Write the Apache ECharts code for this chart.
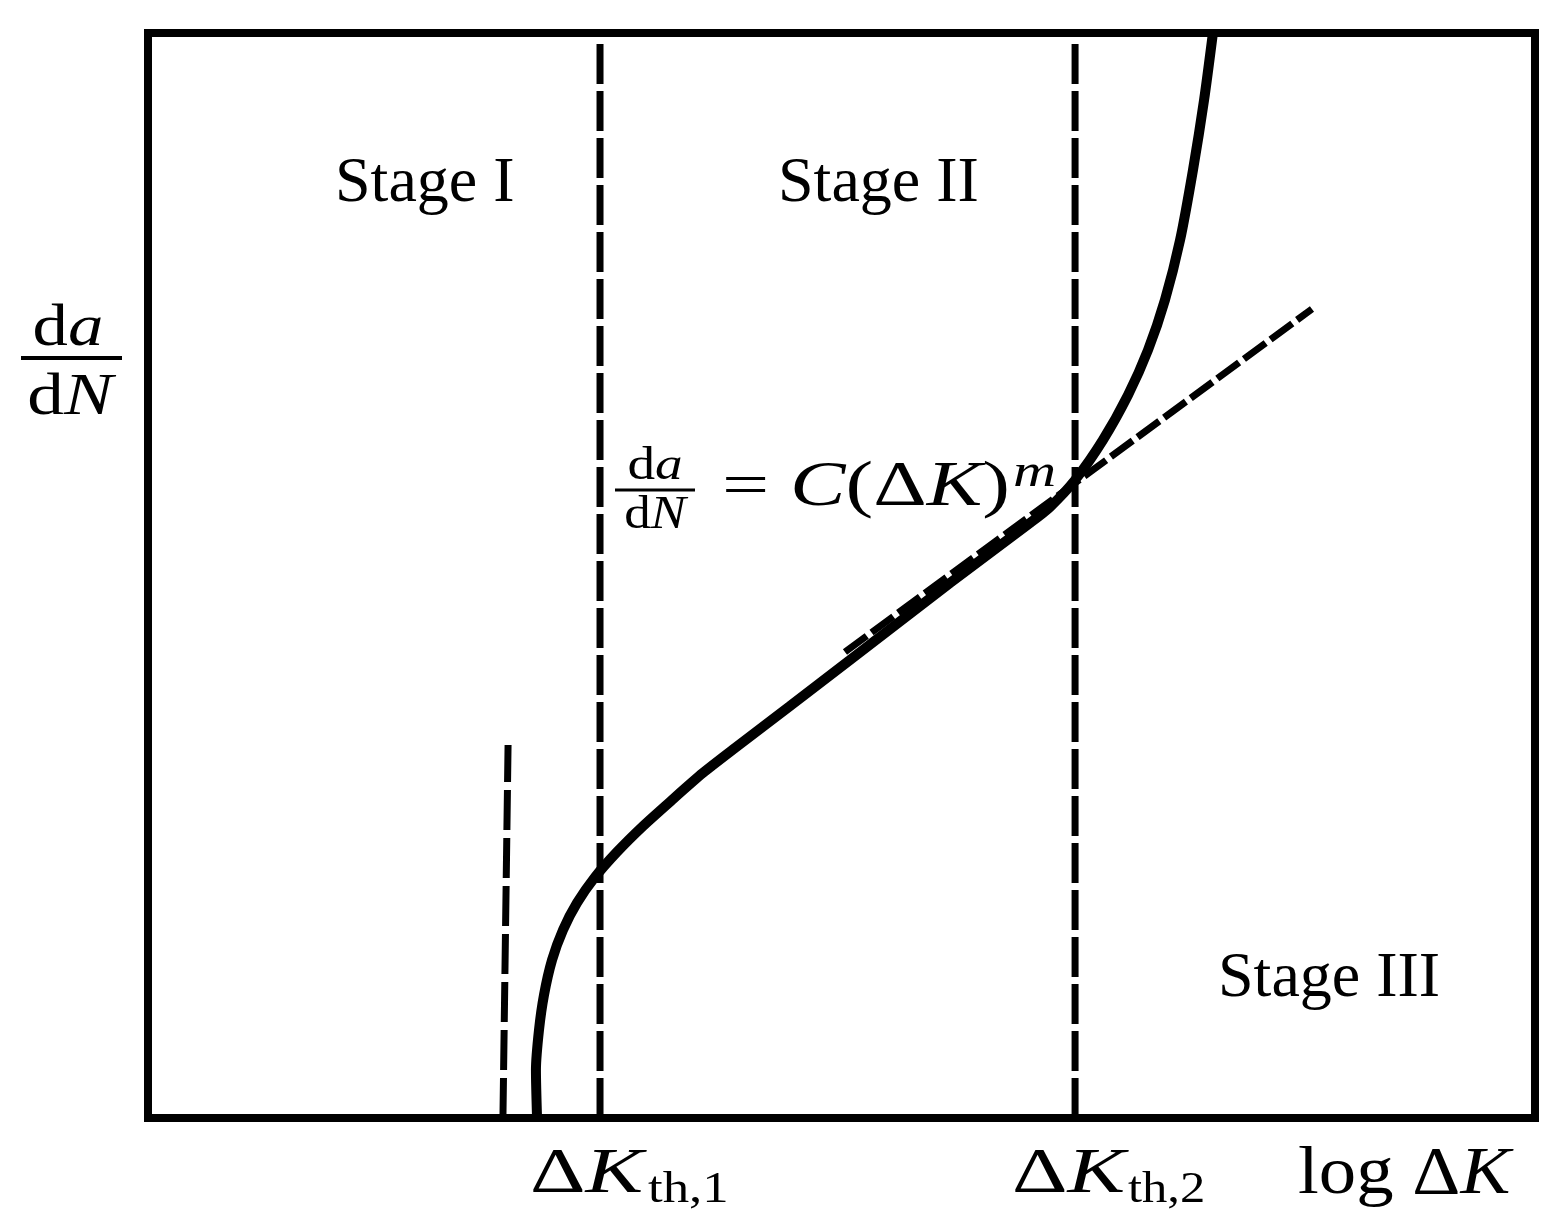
<!DOCTYPE html>
<html>
<head>
<meta charset="utf-8">
<script src="https://cdn.jsdelivr.net/npm/echarts@6/dist/echarts.min.js"></script>
<style>
  html, body { margin: 0; padding: 0; background: #fff; }
  #chart { width: 1563px; height: 1227px; }
</style>
</head>
<body>
<div id="chart"></div>
<script>
// schematic fatigue crack growth curve, both axes in arbitrary units 0..100
const curveX = [28.05, 27.97, 28.19, 28.55, 29.13, 29.92, 30.93, 32.23, 33.81, 35.69, 37.78, 40.01, 42.32, 46.29, 50.61, 57.82, 63.59, 65.03, 66.84, 68.85, 70.66, 72.1, 73.32, 74.41, 75.34, 76.14, 76.78];
const curveY = [0, 4.42, 8.11, 11.34, 14.56, 17.33, 19.82, 22.21, 24.52, 26.91, 29.31, 31.8, 34.1, 37.97, 42.21, 49.31, 54.84, 56.31, 58.8, 62.49, 66.64, 70.78, 75.39, 80.92, 87.37, 93.82, 100];

const thresholdX = [32.59, 66.84];      // dK_th,1 , dK_th,2
const thresholdTop = 99.35;
const shortDashX = [25.59, 25.96];       // bottom, top
const shortDashY = [0, 34.38];
const powerLawX = [50.25, 83.92];
const powerLawY = [42.95, 74.56];

const serif = '"Liberation Serif", "Times New Roman", serif';

const chart = echarts.init(document.getElementById('chart'));

const dashed = (pts, dash) => ({
  type: 'line',
  data: pts,
  showSymbol: false,
  silent: true,
  lineStyle: { color: '#000', width: 7, type: dash, cap: 'butt' },
  z: 2
});

const series = [];
thresholdX.forEach(x => series.push(dashed([[x, 0], [x, thresholdTop]], [40, 7])));
series.push(dashed(shortDashX.map((x, i) => [x, shortDashY[i]]), [40, 8]));
series.push(dashed(powerLawX.map((x, i) => [x, powerLawY[i]]), [27, 6]));
series.push({
  type: 'line',
  data: curveX.map((x, i) => [x, curveY[i]]),
  showSymbol: false,
  silent: true,
  smooth: 0.25,
  lineStyle: { color: '#000', width: 10 },
  z: 3
});

const rich = (fs) => ({
  r: { fontFamily: serif, fontSize: fs, fill: '#000' },
  i: { fontFamily: serif, fontSize: fs, fontStyle: 'italic', fill: '#000' }
});

// text anchored at (x, y) = left/center of the line box; sx stretches it to the wider TeX glyphs
const txt = (x, y, text, fs, align, sx) => ({
  type: 'text',
  x: x, y: y,
  scaleX: sx || 1,
  style: {
    text: text,
    font: fs + 'px ' + serif,
    fill: '#000',
    align: align || 'left',
    verticalAlign: 'middle',
    rich: rich(fs)
  }
});

const graphic = [
  txt(335, 184, 'Stage I', 64),
  txt(778, 184, 'Stage II', 64),
  txt(1218, 979, 'Stage III', 64),
  // y axis label
  txt(68, 329, '{r|d}{i|a}', 60, 'center', 1.18),
  { type: 'line', shape: { x1: 21, y1: 358, x2: 122, y2: 358 }, style: { stroke: '#000', lineWidth: 4 } },
  txt(70, 398, '{r|d}{i|N}', 60, 'center', 1.22),
  // power law
  txt(655, 467, '{r|d}{i|a}', 46, 'center', 1.2),
  { type: 'line', shape: { x1: 615, y1: 490, x2: 695, y2: 490 }, style: { stroke: '#000', lineWidth: 3 } },
  txt(655, 516, '{r|d}{i|N}', 46, 'center', 1.15),
  txt(722, 489, '=', 62, 'left', 1.35),
  txt(790, 488, '{i|C}{r|(Δ}{i|K}{r|)}', 64, 'left', 1.3),
  txt(1013, 474, '{i|m}', 46, 'left', 1.3),
  // x axis labels
  txt(530, 1175, '{r|Δ}{i|K}', 64, 'left', 1.35),
  txt(648, 1190, 'th,1', 44, 'left', 1.2),
  txt(1012, 1175, '{r|Δ}{i|K}', 64, 'left', 1.35),
  txt(1128, 1190, 'th,2', 44, 'left', 1.15),
  txt(1298, 1175, '{r|log Δ}{i|K}', 68, 'left', 1.1)
];

chart.setOption({
  animation: false,
  grid: {
    left: 148, right: 28, top: 33, bottom: 109,
    show: true, borderColor: '#000', borderWidth: 8, backgroundColor: 'transparent'
  },
  xAxis: { type: 'value', min: 0, max: 100, show: false },
  yAxis: { type: 'value', min: 0, max: 100, show: false },
  series: series,
  graphic: graphic
});
</script>
</body>
</html>
